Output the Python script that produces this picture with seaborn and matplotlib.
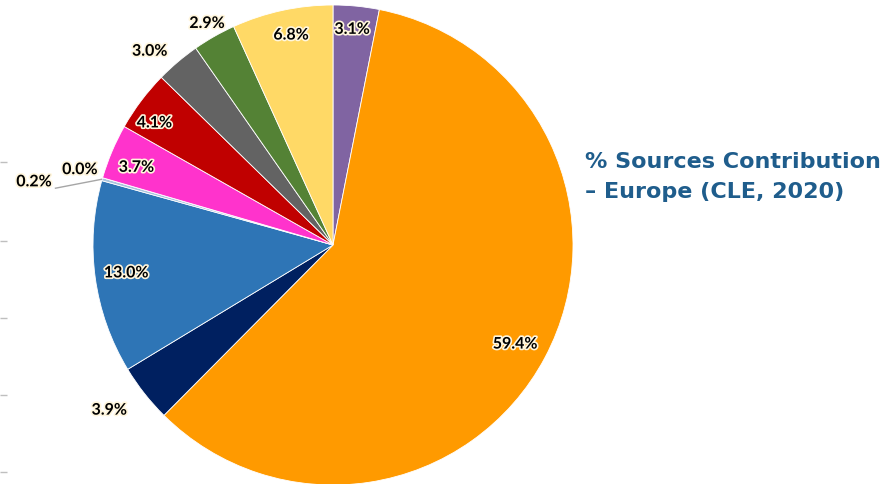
import numpy as np
import matplotlib
matplotlib.use("Agg")
import matplotlib.pyplot as plt
import matplotlib.patheffects as pe
import seaborn as sns

sns.set_theme(style="white")
plt.rcParams['font.family'] = ['Lato', 'DejaVu Sans']

# ---- data ----
labels = ["3.1%", "59.4%", "3.9%", "13.0%", "0.2%", "0.0%", "3.7%", "4.1%", "3.0%", "2.9%", "6.8%"]
values = [3.1, 59.4, 3.9, 13.0, 0.2, 0.0, 3.7, 4.1, 3.0, 2.9, 6.8]
colors = ["#8064A2", "#FF9A00", "#002060", "#2E75B6", "#A9C4DE", "#A5A5A5",
          "#FF33CC", "#C00000", "#636363", "#548235", "#FFD966"]
# label radial distance (fraction of radius) and angular nudge (deg)
label_dist = [0.90, 0.865, 1.16, 0.87, 1.183, 1.10, 0.88, 0.90, 1.11, 1.06, 0.89]
label_nudge = [0.5, -0.7, -1.7, 0.0, 4.4, -0.2, 1.5, 2.7, 3.2, 0.0, -0.9]
title_lines = ["% Sources Contribution", "– Europe (CLE, 2020)"]
left_ticks = [162, 241, 318, 395, 472]

W, H = 888, 484
fig = plt.figure(figsize=(W / 100, H / 100), dpi=100)
ax = fig.add_axes([0, 0, 1, 1])
ax.set_xlim(0, W)
ax.set_ylim(0, H)
ax.set_aspect('equal')
ax.axis('off')

cx, cy, R = 333, 239, 240
wedges, _ = ax.pie(values, colors=colors, startangle=90, counterclock=False,
                   center=(cx, cy), radius=R, normalize=True,
                   wedgeprops=dict(edgecolor='white', linewidth=0.6))
ax.set_xlim(0, W)
ax.set_ylim(0, H)

glow = [pe.withStroke(linewidth=2.4, foreground='#FFF6DD')]
for w, lab, d, nd in zip(wedges, labels, label_dist, label_nudge):
    mid = (w.theta1 + w.theta2) / 2
    ang = np.deg2rad(mid + nd)
    x = cx + R * d * np.cos(ang)
    y = cy + R * d * np.sin(ang)
    if lab == "0.2%":
        a0 = np.deg2rad(mid)
        x0, y0 = cx + R * np.cos(a0), cy + R * np.sin(a0)
        ax.plot([x0, x], [y0, y], color='#A6A6A6', lw=1.0, solid_capstyle='butt')
        ax.text(x - 3, y + 6, lab, ha='right', va='center', fontsize=11.5,
                fontweight='bold', color='black', path_effects=glow)
    else:
        ax.text(x, y, lab, ha='center', va='center', fontsize=11.5,
                fontweight='bold', color='black', path_effects=glow)

for i, line in enumerate(title_lines):
    ax.text(585, H - 162 - 30 * i, line, ha='left', va='center', fontsize=16,
            fontweight='bold', color='#1F5D8C', family=['DejaVu Sans'])

# faint tick marks at the left edge
ax2 = fig.add_axes([0, 0, 0.0001, 1])
ax2.set_ylim(H, 0)
ax2.set_yticks(left_ticks)
ax2.set_yticklabels([])
ax2.set_xticks([])
ax2.tick_params(axis='y', direction='in', length=5, width=1, color='#BFBFBF', left=True)
for s in ax2.spines.values():
    s.set_visible(False)
ax2.patch.set_alpha(0)

fig.savefig("out.png", dpi=100)
